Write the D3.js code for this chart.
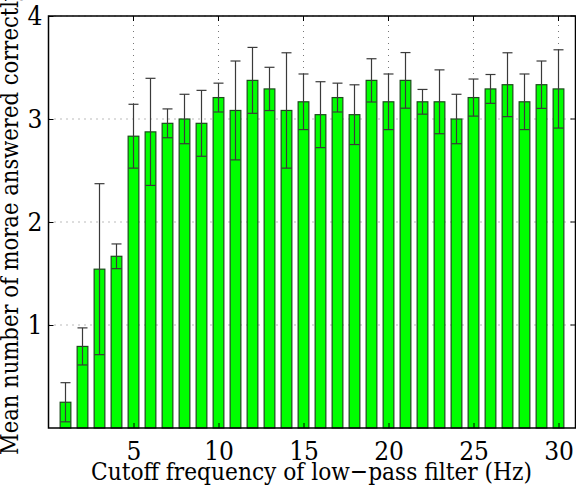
<!DOCTYPE html>
<html><head><meta charset="utf-8">
<script src="https://cdn.jsdelivr.net/npm/d3@7"></script>
<style>
html,body{margin:0;padding:0;background:#fff;}
svg{display:block;}
text{font-family:"DejaVu Serif Condensed","DejaVu Serif",serif;fill:#000;}
</style></head><body>
<script>
const freqs = [1,2,3,4,5,6,7,8,9,10,11,12,13,14,15,16,17,18,19,20,21,22,23,24,25,26,27,28,29,30];
const means = [0.250,0.792,1.542,1.667,2.833,2.875,2.958,3.000,2.958,3.208,3.083,3.375,3.292,3.083,3.167,3.042,3.208,3.042,3.375,3.167,3.375,3.167,3.167,3.000,3.208,3.292,3.333,3.167,3.333,3.292];
const errs  = [0.19,0.18,0.83,0.12,0.31,0.52,0.14,0.24,0.32,0.14,0.48,0.32,0.21,0.56,0.27,0.32,0.14,0.29,0.21,0.27,0.27,0.12,0.31,0.24,0.18,0.14,0.31,0.27,0.23,0.38];
const xTicks = [5,10,15,20,25,30];
const yTicks = [1,2,3,4];
const xLabel = "Cutoff frequency of low\u2212pass filter (Hz)";
const yLabel = "Mean number of morae answered correctly";

const W = 576, H = 486;
const svg = d3.select("body").append("svg").attr("width", W).attr("height", H);
const x = d3.scaleLinear().domain([0, 31]).range([48.5, 575.5]);
const y = d3.scaleLinear().domain([0, 4]).range([428, 16]);
const barW = x(0.63) - x(0);
const capHalf = 5;

// grid
const g = svg.append("g");
g.selectAll("line.gx").data(xTicks).join("line")
  .attr("x1", d => x(d)).attr("x2", d => x(d)).attr("y1", y(0)).attr("y2", y(4))
  .attr("stroke", "#777").attr("stroke-width", 1).attr("stroke-dasharray", "1,5");
g.selectAll("line.gy").data(yTicks).join("line")
  .attr("x1", x(0)).attr("x2", x(31)).attr("y1", d => y(d)).attr("y2", d => y(d))
  .attr("stroke", "#777").attr("stroke-width", 1).attr("stroke-dasharray", "1,5");

// bars
svg.append("g").selectAll("rect").data(freqs).join("rect")
  .attr("x", (d) => x(d) - barW / 2)
  .attr("width", barW)
  .attr("y", (d, i) => y(means[i]))
  .attr("height", (d, i) => y(0) - y(means[i]))
  .attr("fill", "#00ff00").attr("stroke", "#1d4a1d").attr("stroke-width", 1.2);

// error bars
const eb = svg.append("g").attr("stroke", "#3a3a3a").attr("stroke-width", 1.2);
freqs.forEach((f, i) => {
  const lo = means[i] - errs[i], hi = means[i] + errs[i];
  eb.append("line").attr("x1", x(f)).attr("x2", x(f)).attr("y1", y(lo)).attr("y2", y(hi));
  eb.append("line").attr("x1", x(f) - capHalf).attr("x2", x(f) + capHalf).attr("y1", y(hi)).attr("y2", y(hi));
  eb.append("line").attr("x1", x(f) - capHalf).attr("x2", x(f) + capHalf).attr("y1", y(lo)).attr("y2", y(lo));
});

// axes
const xAxis = d3.axisBottom(x).tickValues(xTicks).tickSize(-5).tickPadding(10).tickFormat(d3.format("d"));
const yAxis = d3.axisLeft(y).tickValues(yTicks).tickSize(-5).tickPadding(6).tickFormat(d3.format("d"));
const ax = svg.append("g").attr("transform", `translate(0,${y(0)})`).call(xAxis);
const ay = svg.append("g").attr("transform", `translate(${x(0)},0)`).call(yAxis);
[ax, ay].forEach(a => {
  a.select(".domain").remove();
  a.selectAll("text").attr("font-size", 26).style("font-family", '"DejaVu Serif Condensed","DejaVu Serif",serif');
  a.selectAll(".tick line").attr("stroke", "#000");
});
ax.selectAll("text").attr("dy", "0.85em");
// top/right ticks
svg.append("g").selectAll("line").data(xTicks).join("line")
  .attr("x1", d => x(d)).attr("x2", d => x(d)).attr("y1", y(4)).attr("y2", y(4) + 5).attr("stroke", "#000");
svg.append("g").selectAll("line").data(yTicks).join("line")
  .attr("x1", x(31)).attr("x2", x(31) - 5).attr("y1", d => y(d)).attr("y2", d => y(d)).attr("stroke", "#000");

// box
svg.append("rect").attr("x", x(0)).attr("y", y(4)).attr("width", x(31) - x(0)).attr("height", y(0) - y(4))
  .attr("fill", "none").attr("stroke", "#000").attr("stroke-width", 1.5);

// labels
svg.append("text").attr("x", (x(0) + x(31)) / 2 - 0.5).attr("y", 480)
  .attr("text-anchor", "middle").attr("font-size", 25)
  .attr("textLength", 441).attr("lengthAdjust", "spacingAndGlyphs").text(xLabel);
svg.append("text").attr("transform", `translate(18,${(y(0) + y(4)) / 2}) rotate(-90)`)
  .attr("text-anchor", "middle").attr("font-size", 25)
  .attr("textLength", 466).attr("lengthAdjust", "spacingAndGlyphs").text(yLabel);
</script>
</body></html>
